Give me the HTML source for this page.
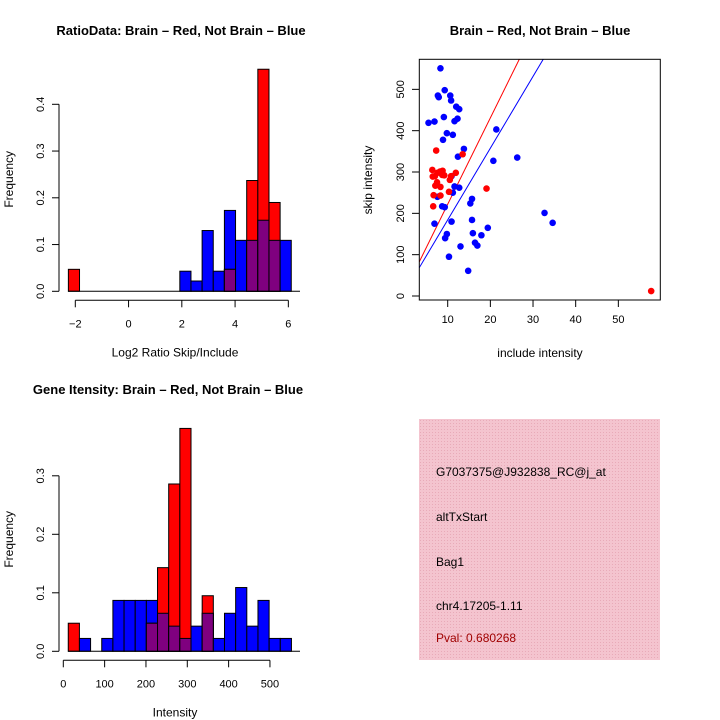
<!DOCTYPE html>
<html><head><meta charset="utf-8"><style>
body{margin:0;background:#fff;}
svg{display:block;font-family:"Liberation Sans",sans-serif;}
</style></head><body>
<svg id="fig" width="720" height="720" viewBox="0 0 720 720">
<defs><pattern id="hatch" width="3" height="3" patternUnits="userSpaceOnUse"><rect width="3" height="3" fill="#f4c4cf"/><rect width="1" height="1" fill="#e8aab8"/></pattern></defs>
<g id="p1"></g>
<g id="p2"></g>
<g id="p3"></g>
<g>
<rect x="419" y="419" width="241" height="241" fill="url(#hatch)"/>
<text x="436" y="476" font-size="12">G7037375@J932838_RC@j_at</text>
<text x="436" y="521" font-size="12">altTxStart</text>
<text x="436" y="566" font-size="12">Bag1</text>
<text x="436" y="610" font-size="12">chr4.17205-1.11</text>
<text x="436" y="642" font-size="12" fill="#a00000">Pval: 0.680268</text>
</g>
</svg>
<script>
// ---- Ratio histogram data ----
const ratioBinStart = -2.26;
const ratioBinWidth = 0.4185;
const ratioRed  = [0.047,0,0,0,0,0,0,0,0,0,0,0,0,0,0.047,0,0.237,0.475,0.19,0];
const ratioBlue = [0,0,0,0,0,0,0,0,0,0,0.043,0.022,0.13,0.043,0.173,0.109,0.109,0.152,0.109,0.109];
const ratioXTicks = [-2,0,2,4,6];
const ratioYTicks = [0,0.1,0.2,0.3,0.4];
// ---- Intensity histogram data ----
const intBinStart = 12;
const intBinWidth = 27;
const intRed  = [0.048,0,0,0,0,0,0,0.048,0.143,0.286,0.381,0,0.095,0,0,0,0,0,0,0];
const intBlue = [0,0.022,0,0.022,0.087,0.087,0.087,0.087,0.065,0.043,0.022,0.043,0.065,0.022,0.065,0.109,0.043,0.087,0.022,0.022];
const intXTicks = [0,100,200,300,400,500];
const intYTicks = [0,0.1,0.2,0.3];
// ---- Scatter data ----
const blueX = [8.3,9.3,7.7,7.9,10.6,10.8,12,12.7,9.1,12.3,11.6,5.5,6.9,9.8,11.2,8.9,21.4,13.8,12.4,26.3,20.7,10.9,11.6,12.7,11.2,7.6,15.7,15.3,8.7,9.3,32.7,34.6,6.9,15.7,10.9,19.4,15.9,17.9,9.8,9.4,16.4,16.95,13.0,10.3,14.8];
const blueY = [551,498,485,481,485,473,458,452,433,429,423,419,422,394,390,378,403,356,337,335,327,290,265,262,250,240,235,224,217,215,201,177,175,184,180,165,152,147,150,140,129,122,120,95,61];
const redX = [7.3,13.5,6.4,11.9,10.8,7.1,8.3,10.5,10.3,8.3,6.7,6.6,19.1,57.7,6.5,8.7,7.6,8.2,7.5,9.2,8.8,7.0];
const redY = [352,343,305,298,290,267,264,281,252,243,244,217,260,12,289,293,298,301,275,292,303,290];
const redLine = [13, 20.9];   // intercept, slope
const blueLine = [10.5, 17.36];
const scatXTicks = [10,20,30,40,50];
const scatYTicks = [0,100,200,300,400,500];

const NS="http://www.w3.org/2000/svg";
function mk(parent,tag,attrs,name){const e=document.createElementNS(NS,tag);for(const k in attrs)e.setAttribute(k,attrs[k]);


parent.appendChild(e);return e;}
function txt(parent,x,y,s,name,extra){const t=mk(parent,'text',Object.assign({x:x,y:y,'font-size':11,'text-anchor':'middle'},extra||{}),name);t.textContent=s;return t;}

function hist(g,o){
  const sx=v=>o.x0+(v-o.xv0)*o.kx, sy=v=>o.y0-v*o.ky;
  for(let i=0;i<o.red.length || i<o.blue.length;i++){
    const a=o.binStart+i*o.binW, b=a+o.binW, r=o.red[i]||0, bl=o.blue[i]||0;
    const x=sx(a), w=sx(b)-sx(a);
    if(bl>0) mk(g,'rect',{x:x,y:sy(bl),width:w,height:sy(0)-sy(bl),fill:'#0000ff',stroke:'#000','stroke-width':1},'bar-blue-'+i);
    if(r>0) mk(g,'rect',{x:x,y:sy(r),width:w,height:sy(0)-sy(r),fill:'#ff0000',stroke:'#000','stroke-width':1},'bar-red-'+i);
    if(r>0&&bl>0){const m=Math.min(r,bl);mk(g,'rect',{x:x,y:sy(m),width:w,height:sy(0)-sy(m),fill:'#7f007f',stroke:'#000','stroke-width':1},'bar-overlap-'+i);}
  }
  mk(g,'line',{x1:68,x2:300,y1:o.y0,y2:o.y0,stroke:'#000'},'baseline');
  const yt=o.yTicks;
  mk(g,'line',{x1:59,x2:59,y1:sy(yt[0]),y2:sy(yt[yt.length-1]),stroke:'#000'},'y-axis');
  yt.forEach(v=>{mk(g,'line',{x1:52,x2:59,y1:sy(v),y2:sy(v),stroke:'#000'},'y-tick');
    txt(g,44,sy(v),v.toFixed(1),'y-tick-label',{transform:`rotate(-90 44 ${sy(v)})`});});
  const xt=o.xTicks, ay=o.y0+9;
  mk(g,'line',{x1:sx(xt[0]),x2:sx(xt[xt.length-1]),y1:ay,y2:ay,stroke:'#000'},'x-axis');
  xt.forEach(v=>{mk(g,'line',{x1:sx(v),x2:sx(v),y1:ay,y2:ay+7,stroke:'#000'},'x-tick');
    txt(g,sx(v),ay+27,v<0?'\u2212'+(-v):String(v),'x-tick-label');});
  txt(g,o.titleX,o.titleY,o.title,'chart-title',{'font-size':13,'font-weight':'bold'});
  txt(g,175,o.y0+65,o.xlab,'x-axis-title',{'font-size':12});
  txt(g,13,o.y0-112,'Frequency','y-axis-title',{'font-size':12,transform:`rotate(-90 13 ${o.y0-112})`});
}
hist(document.getElementById('p1'),{red:ratioRed,blue:ratioBlue,binStart:ratioBinStart,binW:ratioBinWidth,x0:75.3,xv0:-2,kx:26.63,y0:291.3,ky:467.5,
  xTicks:ratioXTicks,yTicks:ratioYTicks,title:'RatioData: Brain \u2013 Red, Not Brain \u2013 Blue',titleX:181,titleY:35,xlab:'Log2 Ratio Skip/Include'});
hist(document.getElementById('p3'),{red:intRed,blue:intBlue,binStart:intBinStart,binW:intBinWidth,x0:63.3,xv0:0,kx:0.4133,y0:651.3,ky:585,
  xTicks:intXTicks,yTicks:intYTicks,title:'Gene Itensity: Brain \u2013 Red, Not Brain \u2013 Blue',titleX:168,titleY:394,xlab:'Intensity'});

// scatter
(function(){
  const g=document.getElementById('p2');
  const L=419.3,R=660.3,T=59.3,B=300;
  const sx=v=>447.7+(v-10)*4.266, sy=v=>296-v*0.4133;
  const cp=mk(g,'clipPath',{id:'sc'},'clip');mk(cp,'rect',{x:L,y:T,width:R-L,height:B-T},'clip-rect');
  const xl=(L-447.7)/4.266+10, xr=(R-447.7)/4.266+10;
  [[redLine,'#ff0000','fit-line-red'],[blueLine,'#0000ff','fit-line-blue']].forEach(([c,col,n])=>{
    mk(g,'line',{x1:sx(xl),y1:sy(c[0]+c[1]*xl),x2:sx(xr),y2:sy(c[0]+c[1]*xr),stroke:col,'stroke-width':1,'clip-path':'url(#sc)'},n);});
  blueX.forEach((x,i)=>mk(g,'circle',{cx:sx(x),cy:sy(blueY[i]),r:3.3,fill:'#0000ff'},'point-blue'));
  redX.forEach((x,i)=>mk(g,'circle',{cx:sx(x),cy:sy(redY[i]),r:3.3,fill:'#ff0000'},'point-red'));
  mk(g,'rect',{x:L,y:T,width:R-L,height:B-T,fill:'none',stroke:'#000'},'plot-frame');
  scatXTicks.forEach(v=>{mk(g,'line',{x1:sx(v),x2:sx(v),y1:B,y2:B+7,stroke:'#000'},'x-tick');txt(g,sx(v),323,String(v),'x-tick-label');});
  scatYTicks.forEach(v=>{mk(g,'line',{x1:412,x2:L,y1:sy(v),y2:sy(v),stroke:'#000'},'y-tick');
    txt(g,404,sy(v),String(v),'y-tick-label',{transform:`rotate(-90 404 ${sy(v)})`});});
  txt(g,540,35,'Brain \u2013 Red, Not Brain \u2013 Blue','chart-title',{'font-size':13,'font-weight':'bold'});
  txt(g,540,357,'include intensity','x-axis-title',{'font-size':12});
  txt(g,372,180,'skip intensity','y-axis-title',{'font-size':12,transform:'rotate(-90 372 180)'});
})();
</script>
</body></html>
